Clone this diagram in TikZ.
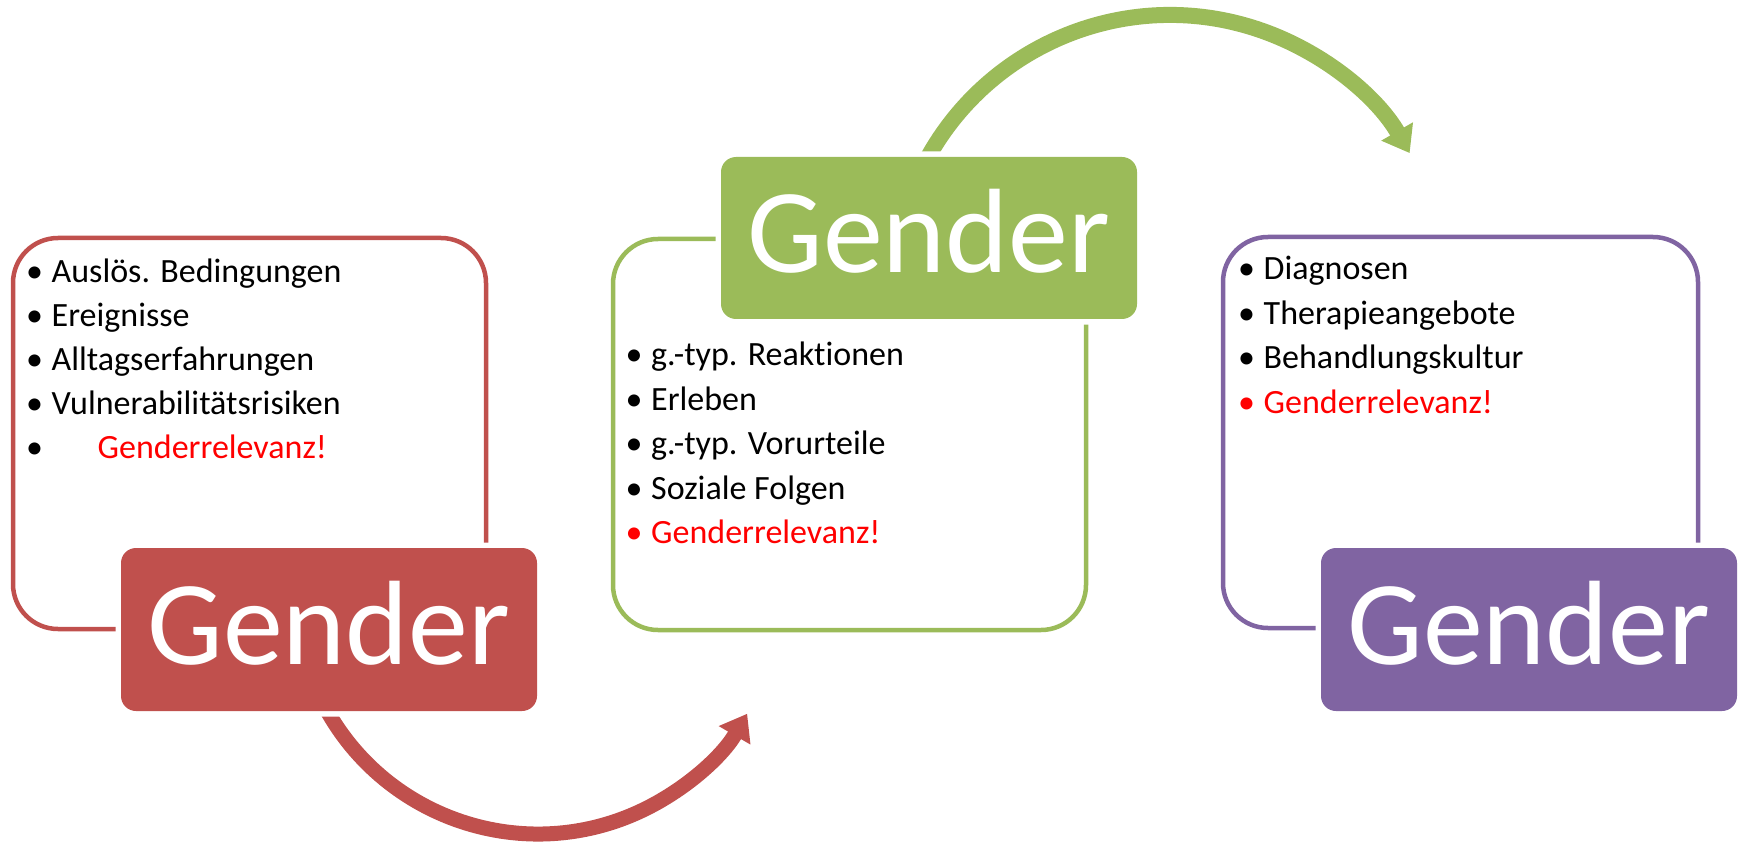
\documentclass[tikz,border=0pt]{standalone}
\usepackage{fontspec}
\setmainfont{Carlito}[Ligatures=NoCommon]
\usetikzlibrary{arrows.meta}
\definecolor{accR}{HTML}{C0504D}
\definecolor{accG}{HTML}{9BBB59}
\definecolor{accP}{HTML}{8064A2}
\definecolor{relred}{HTML}{FF0000}
\newcommand\bul[1][black]{\llap{\makebox[0pt][c]{\textcolor{#1}{•}}\hspace{17pt}}}
\begin{document}
\begin{tikzpicture}[x=1pt,y=-1pt,
  outline/.style={draw=#1, line width=4.5pt, rounded corners=45pt},
  genbox/.style={fill=#1, rounded corners=15pt, preaction={draw=white, line width=11pt},
    text=white, font=\fontsize{120}{120}\selectfont, inner sep=0pt,
    minimum width=416pt, minimum height=163pt,
    text height=70pt, text depth=0pt, anchor=center},
  item/.style={anchor=base west, inner sep=0pt, font=\fontsize{34}{40}\selectfont},
  bendarrow/.style={draw=#1, line width=15pt, -{Triangle[width=35pt,length=25pt]}}
]
\useasboundingbox (0,0) rectangle (1740,842);

% outline boxes
\draw[outline=accR] (13,238) rectangle (486,629);
\draw[outline=accG] (613,239) rectangle (1086,630);
\draw[outline=accP] (1223,237) rectangle (1698,628);

% arrows
\coordinate (redtail) at ([shift={(538,592)}]155:242);
\draw[bendarrow=accR] (redtail) arc[start angle=155, end angle=30.2, radius=242];
\coordinate (greentail) at ([shift={(1170,292)}]200:277);
\draw[bendarrow=accG, line width=16pt] (greentail) arc[start angle=200, end angle=329.9, radius=277];

% filled boxes
\node[genbox=accR] (rg) at (329,629.5) {Gender};
\node[genbox=accG, minimum height=162pt] (gg) at (929,238) {Gender};
\node[genbox=accP] (pg) at (1529,629.5) {Gender};

% red list
\node[item] (r1) at (51.5,282.5) {\bul Auslös. Bedingungen};
\node[item] (r2) at (51.5,326.5) {\bul Ereignisse};
\node[item] (r3) at (51.5,370.5) {\bul Alltagserfahrungen};
\node[item] (r4) at (51.5,414.5) {\bul Vulnerabilitätsrisiken};
\node[item] (r5) at (51.5,458.5) {\bul\hspace{46pt}\textcolor{relred}{Genderrelevanz!}};

% green list
\node[item] (g1) at (651,365) {\bul g.-typ. Reaktionen};
\node[item] (g2) at (651,410) {\bul Erleben};
\node[item] (g3) at (651,454) {\bul g.-typ. Vorurteile};
\node[item] (g4) at (651,499) {\bul Soziale Folgen};
\node[item] (g5) at (651,543) {\bul[relred]\textcolor{relred}{Genderrelevanz!}};

% purple list
\node[item] (p1) at (1263.5,280) {\bul Diagnosen};
\node[item] (p2) at (1263.5,324) {\bul Therapieangebote};
\node[item] (p3) at (1263.5,368) {\bul Behandlungskultur};
\node[item] (p4) at (1263.5,413) {\bul[relred]\textcolor{relred}{Genderrelevanz!}};
\end{tikzpicture}
\end{document}
